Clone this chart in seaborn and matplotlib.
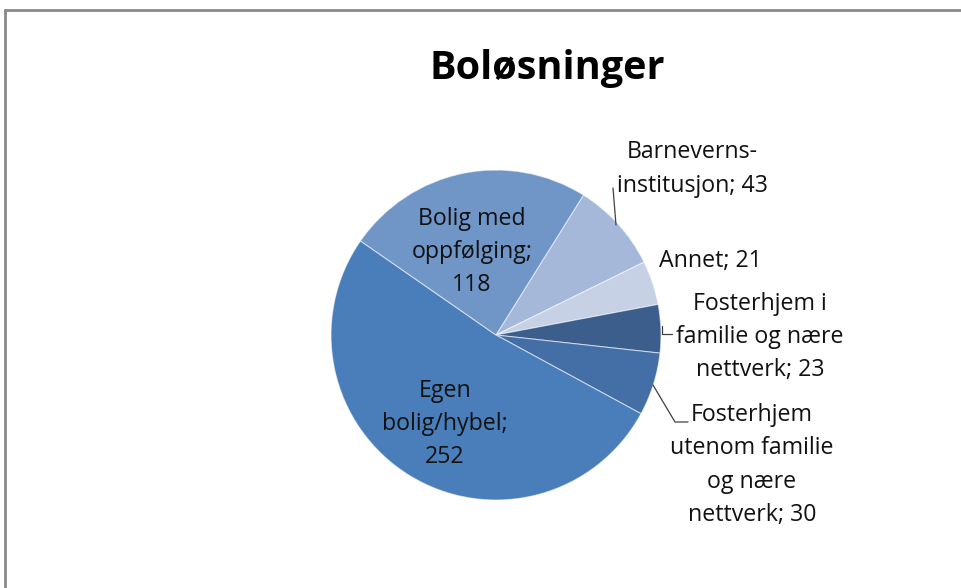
import matplotlib
matplotlib.use("Agg")
import matplotlib.pyplot as plt
import seaborn as sns
from matplotlib.lines import Line2D

sns.set_theme(style="white")
plt.rcParams['font.family'] = ['Open Sans', 'DejaVu Sans']

# ---- data ----
categories = ["Barneverns-\ninstitusjon", "Annet", "Fosterhjem i\nfamilie og nære\nnettverk",
              "Fosterhjem\nutenom familie\nog nære\nnettverk", "Egen\nbolig/hybel", "Bolig med\noppfølging"]
values = [43, 21, 23, 30, 252, 118]
colors = ["#a5b8d9", "#c6d1e6", "#3b5e8d", "#446fa6", "#4a7ebb", "#7096c8"]
title = "Boløsninger"

W, H = 962, 588
fig = plt.figure(figsize=(W / 100, H / 100), dpi=100)
ax = fig.add_axes([0, 0, 1, 1])

cx, cy, r = 496, H - 335, 165
ax.pie(values, colors=colors, startangle=58, counterclock=False,
       center=(cx, cy), radius=r,
       wedgeprops=dict(edgecolor=(1, 1, 1, 0.55), linewidth=0.8))
ax.set_xlim(0, W)
ax.set_ylim(0, H)
ax.set_aspect('auto')
ax.axis('off')

fs = 16.7
ls = 1.52
tc = "#111111"
def txt(s, x, y):
    ax.text(x, H - y, s, ha="center", va="center", fontsize=fs, color=tc, linespacing=ls)

# inside labels
txt(f"{categories[5]};\n{values[5]}", 472, 252)
txt(f"{categories[4]};\n{values[4]}", 445, 424)
# outside labels
txt(f"{categories[0]}; {values[0]}", 692, 169)
txt(f"{categories[1]}; {values[1]}", 710, 261)
txt(f"{categories[2]}; {values[2]}", 760, 337)
txt(f"{categories[3]}; {values[3]}", 752, 465)

# leader lines
lc = "#404040"
ax.plot([616, 613], [H - 225, H - 188], color=lc, lw=0.9)
ax.plot([662, 662, 672], [H - 326, H - 334, H - 334], color=lc, lw=0.9)
ax.plot([653, 675, 688], [H - 385, H - 422, H - 422], color=lc, lw=0.9)

ax.text(547, H - 79, title, ha="center", va="baseline", fontsize=28.5,
        fontweight="bold", color="#000000")

# chart-area border (top and left)
fig.add_artist(Line2D([4.5 / W, 1], [1 - 10 / H, 1 - 10 / H], color="#8a8a8a", lw=2,
                      transform=fig.transFigure))
fig.add_artist(Line2D([4.5 / W, 4.5 / W], [0, 1 - 10 / H], color="#8a8a8a", lw=2,
                      transform=fig.transFigure))

fig.savefig("out.png", dpi=100, facecolor="white")
